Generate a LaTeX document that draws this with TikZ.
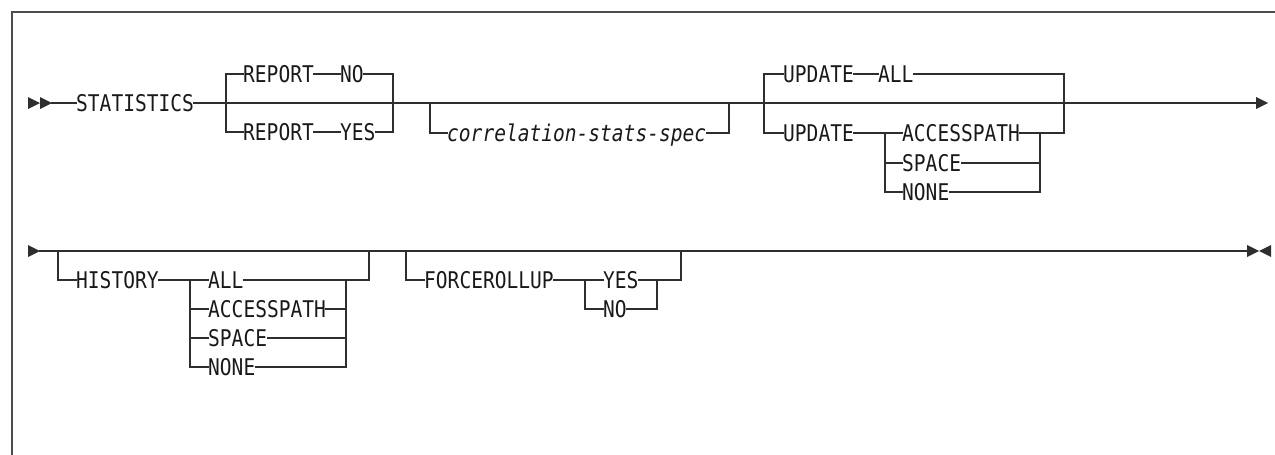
\documentclass[tikz,border=0pt]{standalone}
\usepackage{fontspec}
\newfontfamily\rrfont[FakeStretch=0.85]{DejaVu Sans Mono}
\definecolor{txt}{gray}{0.1}
\definecolor{ln}{gray}{0.18}
\definecolor{frm}{gray}{0.3}
\tikzset{
  kw/.style={anchor=west, inner sep=0pt, text height=16.6pt, text depth=0pt,
    font=\rrfont\fontsize{23}{26}\selectfont, text=txt},
  var/.style={kw, font=\rrfont\itshape\fontsize{23}{26}\selectfont},
  rail/.style={line width=1.5pt, draw=ln, line cap=rect},
  tip/.style={fill=ln},
  frame/.style={line width=2pt, draw=frm}
}
\begin{document}
\begin{tikzpicture}[x=1pt,y=-1pt]
\useasboundingbox (0,0) rectangle (1275,455);
% frame
\coordinate (fbl) at (11.5,455);
\coordinate (ftl) at (11.5,11.5);
\coordinate (ftr) at (1275,11.5);
\draw[frame] (fbl) -- (ftl) -- (ftr);

% ---------- row 1 ----------
\coordinate (s1) at (52,103);
\coordinate (e1) at (1257,103);
\fill[tip] (28,97) -- (40,103) -- (28,109) -- cycle;
\fill[tip] (40,97) -- (52,103) -- (40,109) -- cycle;
\fill[tip] (1256,97) -- (1268,103) -- (1256,109) -- cycle;

\node[kw] (st) at (76,103) {STATISTICS};
\draw[rail] (s1) -- (st.west) (st.east) -- (e1);

% REPORT
\coordinate (rL) at (226,103);
\coordinate (rR) at (393,103);
\node[kw] (rp1) at (243,74) {REPORT};
\node[kw] (no1) at (340,74) {NO};
\node[kw] (rp2) at (243,132) {REPORT};
\node[kw] (yes1) at (340,132) {YES};
\draw[rail] (rL) |- (rp1.west) (rp1.east) -- (no1.west) (no1.east) -| (rR);
\draw[rail] (rL) |- (rp2.west) (rp2.east) -- (yes1.west) (yes1.east) -| (rR);

% correlation-stats-spec
\coordinate (cL) at (430,103);
\coordinate (cR) at (729,103);
\node[var] (corr) at (447,133) {correlation-stats-spec};
\draw[rail] (cL) |- (corr.west) (corr.east) -| (cR);

% UPDATE
\coordinate (uL) at (764,103);
\coordinate (uR) at (1064,103);
\node[kw] (up1) at (783,74) {UPDATE};
\node[kw] (all1) at (878,74) {ALL};
\draw[rail] (uL) |- (up1.west) (up1.east) -- (all1.west) (all1.east) -| (uR);
\node[kw] (up2) at (783,133) {UPDATE};
\coordinate (iL) at (885,133);
\coordinate (iR) at (1040,133);
\node[kw] (acc1) at (902,133) {ACCESSPATH};
\node[kw] (spc1) at (902,163) {SPACE};
\node[kw] (non1) at (902,192) {NONE};
\draw[rail] (uL) |- (up2.west) (up2.east) -- (acc1.west) (acc1.east) -| (uR);
\draw[rail] (iL) |- (spc1.west) (iL) |- (non1.west);
\draw[rail] (spc1.east) -| (iR) (non1.east) -| (iR);

% ---------- row 2 ----------
\coordinate (s2) at (40,251);
\coordinate (e2) at (1247,251);
\fill[tip] (28,245) -- (40,251) -- (28,257) -- cycle;
\fill[tip] (1247,245) -- (1259,251) -- (1247,257) -- cycle;
\fill[tip] (1271,245) -- (1259,251) -- (1271,257) -- cycle;
\draw[rail] (s2) -- (e2);

% HISTORY
\coordinate (hL) at (58,251);
\coordinate (hR) at (369,251);
\node[kw] (hist) at (76,280) {HISTORY};
\coordinate (hiL) at (190,280);
\coordinate (hiR) at (346,280);
\node[kw] (all2) at (208,280) {ALL};
\node[kw] (acc2) at (208,309) {ACCESSPATH};
\node[kw] (spc2) at (208,338) {SPACE};
\node[kw] (non2) at (208,367) {NONE};
\draw[rail] (hL) |- (hist.west) (hist.east) -- (all2.west) (all2.east) -| (hR);
\draw[rail] (hiL) |- (acc2.west) (hiL) |- (spc2.west) (hiL) |- (non2.west);
\draw[rail] (acc2.east) -| (hiR) (spc2.east) -| (hiR) (non2.east) -| (hiR);

% FORCEROLLUP
\coordinate (fL) at (406,251);
\coordinate (fR) at (681,251);
\node[kw] (fr) at (424,280) {FORCEROLLUP};
\coordinate (fiL) at (585,280);
\coordinate (fiR) at (657,280);
\node[kw] (yes2) at (603,280) {YES};
\node[kw] (no2) at (603,309) {NO};
\draw[rail] (fL) |- (fr.west) (fr.east) -- (yes2.west) (yes2.east) -| (fR);
\draw[rail] (fiL) |- (no2.west) (no2.east) -| (fiR);
\end{tikzpicture}
\end{document}
